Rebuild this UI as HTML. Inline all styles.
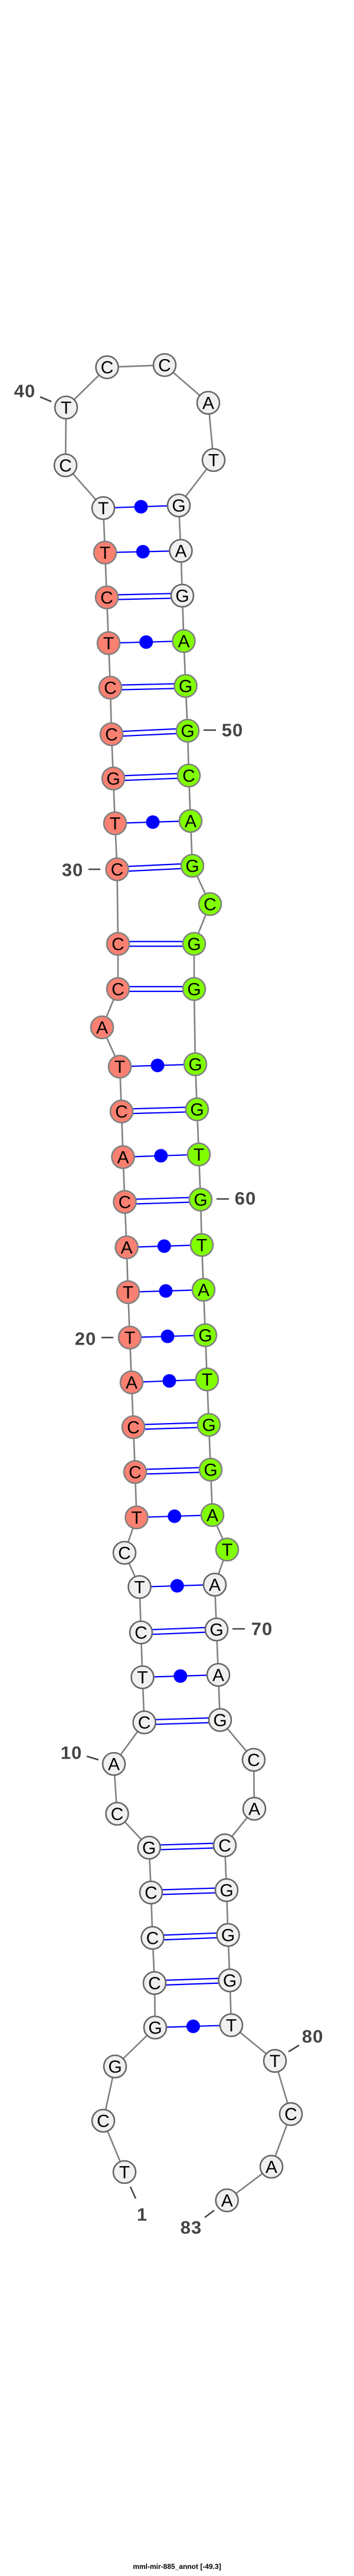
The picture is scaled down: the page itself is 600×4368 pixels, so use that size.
<!DOCTYPE html>
<html><head><meta charset="utf-8"><style>
html,body{margin:0;padding:0;background:#fff}
svg{display:block}
.n text{font-family:"Liberation Sans",sans-serif;font-size:30px;text-anchor:middle;dominant-baseline:central;fill:#000}
.n circle{fill:#f0f0f0;stroke:#666;stroke-width:2.6}
.n circle.r{fill:#fa8072;stroke:#808080}
.n circle.g{fill:#7fff00;stroke:#808080}
.lb{font-family:"Liberation Sans",sans-serif;font-weight:bold;font-size:31px;fill:#444;text-anchor:middle;dominant-baseline:central;letter-spacing:1px}
.pr line{stroke:#0000ff;stroke-width:2.2}
.pr circle{fill:#0000ff}
</style></head><body>
<svg width="600" height="4368" viewBox="0 0 600 4368" xmlns="http://www.w3.org/2000/svg">
<polyline fill="none" stroke="#808080" stroke-width="2.6" points="211,3683 175,3596 195,3504 263,3438 262,3362.5 258.5,3286 256,3209 252.7,3133 198.5,3075.5 193,2991 244.6,2920.5 241.5,2844 239,2768 236.5,2691 211,2633 231.5,2573 229,2496 226,2420 223,2344 220,2268 217,2191 214.6,2115 211.5,2038 208.5,1962 206,1884.7 203,1808.7 173,1742 200,1677 200,1600.5 198.5,1474 195,1396 192,1320 189,1245 187,1166 184,1090.5 181,1013 178,937 175,861.5 111,789 112,691 181.5,622.7 279,619 353,683 362,780 303,857 306.5,934 309,1010 311.5,1087 314.6,1163 318,1239 320,1315 323,1392 326,1468 356,1533 329,1600.5 329,1677 331,1804.6 334,1881 337,1957.6 340,2034 342,2111 345,2187 348,2264 351,2339 354,2416 357,2492 360,2569 385,2627.5 364,2687 367,2763 370,2840 373,2916.5 430,2984 431,3067 381,3129 384,3205 386.5,3281 389.6,3358 392,3434 466,3494.6 493,3584.7 460,3674 384.7,3731"/>
<g class="pr">
<line x1="263" y1="3438" x2="392" y2="3434"/><circle cx="327.5" cy="3436" r="11.5"/>
<line x1="262" y1="3358.5" x2="389.6" y2="3354"/><line x1="262" y1="3366.5" x2="389.6" y2="3362"/>
<line x1="258.5" y1="3282" x2="386.5" y2="3277"/><line x1="258.5" y1="3290" x2="386.5" y2="3285"/>
<line x1="256" y1="3205" x2="384" y2="3201"/><line x1="256" y1="3213" x2="384" y2="3209"/>
<line x1="252.7" y1="3129" x2="381" y2="3125"/><line x1="252.7" y1="3137" x2="381" y2="3133"/>
<line x1="244.6" y1="2916.5" x2="373" y2="2912.5"/><line x1="244.6" y1="2924.5" x2="373" y2="2920.5"/>
<line x1="241.5" y1="2844" x2="370" y2="2840"/><circle cx="305.75" cy="2842" r="11.5"/>
<line x1="239" y1="2764" x2="367" y2="2759"/><line x1="239" y1="2772" x2="367" y2="2767"/>
<line x1="236.5" y1="2691" x2="364" y2="2687"/><circle cx="300.25" cy="2689" r="11.5"/>
<line x1="231.5" y1="2573" x2="360" y2="2569"/><circle cx="295.75" cy="2571" r="11.5"/>
<line x1="229" y1="2492" x2="357" y2="2488"/><line x1="229" y1="2500" x2="357" y2="2496"/>
<line x1="226" y1="2416" x2="354" y2="2412"/><line x1="226" y1="2424" x2="354" y2="2420"/>
<line x1="223" y1="2344" x2="351" y2="2339"/><circle cx="287" cy="2341.5" r="11.5"/>
<line x1="220" y1="2268" x2="348" y2="2264"/><circle cx="284" cy="2266" r="11.5"/>
<line x1="217" y1="2191" x2="345" y2="2187"/><circle cx="281" cy="2189" r="11.5"/>
<line x1="214.6" y1="2115" x2="342" y2="2111"/><circle cx="278.3" cy="2113" r="11.5"/>
<line x1="211.5" y1="2034" x2="340" y2="2030"/><line x1="211.5" y1="2042" x2="340" y2="2038"/>
<line x1="208.5" y1="1962" x2="337" y2="1957.6"/><circle cx="272.75" cy="1959.8" r="11.5"/>
<line x1="206" y1="1880.7" x2="334" y2="1877"/><line x1="206" y1="1888.7" x2="334" y2="1885"/>
<line x1="203" y1="1808.7" x2="331" y2="1804.6"/><circle cx="267" cy="1806.6" r="11.5"/>
<line x1="200" y1="1673" x2="329" y2="1673"/><line x1="200" y1="1681" x2="329" y2="1681"/>
<line x1="200" y1="1596.5" x2="329" y2="1596.5"/><line x1="200" y1="1604.5" x2="329" y2="1604.5"/>
<line x1="198.5" y1="1470" x2="326" y2="1464"/><line x1="198.5" y1="1478" x2="326" y2="1472"/>
<line x1="195" y1="1396" x2="323" y2="1392"/><circle cx="259" cy="1394" r="11.5"/>
<line x1="192" y1="1316" x2="320" y2="1311"/><line x1="192" y1="1324" x2="320" y2="1319"/>
<line x1="189" y1="1241" x2="318" y2="1235"/><line x1="189" y1="1249" x2="318" y2="1243"/>
<line x1="187" y1="1162" x2="314.6" y2="1159"/><line x1="187" y1="1170" x2="314.6" y2="1167"/>
<line x1="184" y1="1090.5" x2="311.5" y2="1087"/><circle cx="247.75" cy="1088.75" r="11.5"/>
<line x1="181" y1="1009" x2="309" y2="1006"/><line x1="181" y1="1017" x2="309" y2="1014"/>
<line x1="178" y1="937" x2="306.5" y2="934"/><circle cx="242.25" cy="935.5" r="11.5"/>
<line x1="175" y1="861.5" x2="303" y2="857"/><circle cx="239" cy="859.25" r="11.5"/>
</g>
<g class="n">
<circle cx="211" cy="3683" r="19"/><text x="211" y="3684">T</text>
<circle cx="175" cy="3596" r="19"/><text x="175" y="3597">C</text>
<circle cx="195" cy="3504" r="19"/><text x="195" y="3505">G</text>
<circle cx="263" cy="3438" r="19"/><text x="263" y="3439">G</text>
<circle cx="262" cy="3362.5" r="19"/><text x="262" y="3363.5">C</text>
<circle cx="258.5" cy="3286" r="19"/><text x="258.5" y="3287">C</text>
<circle cx="256" cy="3209" r="19"/><text x="256" y="3210">C</text>
<circle cx="252.7" cy="3133" r="19"/><text x="252.7" y="3134">G</text>
<circle cx="198.5" cy="3075.5" r="19"/><text x="198.5" y="3076.5">C</text>
<circle cx="193" cy="2991" r="19"/><text x="193" y="2992">A</text>
<circle cx="244.6" cy="2920.5" r="19"/><text x="244.6" y="2921.5">C</text>
<circle cx="241.5" cy="2844" r="19"/><text x="241.5" y="2845">T</text>
<circle cx="239" cy="2768" r="19"/><text x="239" y="2769">C</text>
<circle cx="236.5" cy="2691" r="19"/><text x="236.5" y="2692">T</text>
<circle cx="211" cy="2633" r="19"/><text x="211" y="2634">C</text>
<circle class="r" cx="231.5" cy="2573" r="19"/><text x="231.5" y="2574">T</text>
<circle class="r" cx="229" cy="2496" r="19"/><text x="229" y="2497">C</text>
<circle class="r" cx="226" cy="2420" r="19"/><text x="226" y="2421">C</text>
<circle class="r" cx="223" cy="2344" r="19"/><text x="223" y="2345">A</text>
<circle class="r" cx="220" cy="2268" r="19"/><text x="220" y="2269">T</text>
<circle class="r" cx="217" cy="2191" r="19"/><text x="217" y="2192">T</text>
<circle class="r" cx="214.6" cy="2115" r="19"/><text x="214.6" y="2116">A</text>
<circle class="r" cx="211.5" cy="2038" r="19"/><text x="211.5" y="2039">C</text>
<circle class="r" cx="208.5" cy="1962" r="19"/><text x="208.5" y="1963">A</text>
<circle class="r" cx="206" cy="1884.7" r="19"/><text x="206" y="1885.7">C</text>
<circle class="r" cx="203" cy="1808.7" r="19"/><text x="203" y="1809.7">T</text>
<circle class="r" cx="173" cy="1742" r="19"/><text x="173" y="1743">A</text>
<circle class="r" cx="200" cy="1677" r="19"/><text x="200" y="1678">C</text>
<circle class="r" cx="200" cy="1600.5" r="19"/><text x="200" y="1601.5">C</text>
<circle class="r" cx="198.5" cy="1474" r="19"/><text x="198.5" y="1475">C</text>
<circle class="r" cx="195" cy="1396" r="19"/><text x="195" y="1397">T</text>
<circle class="r" cx="192" cy="1320" r="19"/><text x="192" y="1321">G</text>
<circle class="r" cx="189" cy="1245" r="19"/><text x="189" y="1246">C</text>
<circle class="r" cx="187" cy="1166" r="19"/><text x="187" y="1167">C</text>
<circle class="r" cx="184" cy="1090.5" r="19"/><text x="184" y="1091.5">T</text>
<circle class="r" cx="181" cy="1013" r="19"/><text x="181" y="1014">C</text>
<circle class="r" cx="178" cy="937" r="19"/><text x="178" y="938">T</text>
<circle cx="175" cy="861.5" r="19"/><text x="175" y="862.5">T</text>
<circle cx="111" cy="789" r="19"/><text x="111" y="790">C</text>
<circle cx="112" cy="691" r="19"/><text x="112" y="692">T</text>
<circle cx="181.5" cy="622.7" r="19"/><text x="181.5" y="623.7">C</text>
<circle cx="279" cy="619" r="19"/><text x="279" y="620">C</text>
<circle cx="353" cy="683" r="19"/><text x="353" y="684">A</text>
<circle cx="362" cy="780" r="19"/><text x="362" y="781">T</text>
<circle cx="303" cy="857" r="19"/><text x="303" y="858">G</text>
<circle cx="306.5" cy="934" r="19"/><text x="306.5" y="935">A</text>
<circle cx="309" cy="1010" r="19"/><text x="309" y="1011">G</text>
<circle class="g" cx="311.5" cy="1087" r="19"/><text x="311.5" y="1088">A</text>
<circle class="g" cx="314.6" cy="1163" r="19"/><text x="314.6" y="1164">G</text>
<circle class="g" cx="318" cy="1239" r="19"/><text x="318" y="1240">G</text>
<circle class="g" cx="320" cy="1315" r="19"/><text x="320" y="1316">C</text>
<circle class="g" cx="323" cy="1392" r="19"/><text x="323" y="1393">A</text>
<circle class="g" cx="326" cy="1468" r="19"/><text x="326" y="1469">G</text>
<circle class="g" cx="356" cy="1533" r="19"/><text x="356" y="1534">C</text>
<circle class="g" cx="329" cy="1600.5" r="19"/><text x="329" y="1601.5">G</text>
<circle class="g" cx="329" cy="1677" r="19"/><text x="329" y="1678">G</text>
<circle class="g" cx="331" cy="1804.6" r="19"/><text x="331" y="1805.6">G</text>
<circle class="g" cx="334" cy="1881" r="19"/><text x="334" y="1882">G</text>
<circle class="g" cx="337" cy="1957.6" r="19"/><text x="337" y="1958.6">T</text>
<circle class="g" cx="340" cy="2034" r="19"/><text x="340" y="2035">G</text>
<circle class="g" cx="342" cy="2111" r="19"/><text x="342" y="2112">T</text>
<circle class="g" cx="345" cy="2187" r="19"/><text x="345" y="2188">A</text>
<circle class="g" cx="348" cy="2264" r="19"/><text x="348" y="2265">G</text>
<circle class="g" cx="351" cy="2339" r="19"/><text x="351" y="2340">T</text>
<circle class="g" cx="354" cy="2416" r="19"/><text x="354" y="2417">G</text>
<circle class="g" cx="357" cy="2492" r="19"/><text x="357" y="2493">G</text>
<circle class="g" cx="360" cy="2569" r="19"/><text x="360" y="2570">A</text>
<circle class="g" cx="385" cy="2627.5" r="19"/><text x="385" y="2628.5">T</text>
<circle cx="364" cy="2687" r="19"/><text x="364" y="2688">A</text>
<circle cx="367" cy="2763" r="19"/><text x="367" y="2764">G</text>
<circle cx="370" cy="2840" r="19"/><text x="370" y="2841">A</text>
<circle cx="373" cy="2916.5" r="19"/><text x="373" y="2917.5">G</text>
<circle cx="430" cy="2984" r="19"/><text x="430" y="2985">C</text>
<circle cx="431" cy="3067" r="19"/><text x="431" y="3068">A</text>
<circle cx="381" cy="3129" r="19"/><text x="381" y="3130">C</text>
<circle cx="384" cy="3205" r="19"/><text x="384" y="3206">G</text>
<circle cx="386.5" cy="3281" r="19"/><text x="386.5" y="3282">G</text>
<circle cx="389.6" cy="3358" r="19"/><text x="389.6" y="3359">G</text>
<circle cx="392" cy="3434" r="19"/><text x="392" y="3435">T</text>
<circle cx="466" cy="3494.6" r="19"/><text x="466" y="3495.6">T</text>
<circle cx="493" cy="3584.7" r="19"/><text x="493" y="3585.7">C</text>
<circle cx="460" cy="3674" r="19"/><text x="460" y="3675">A</text>
<circle cx="384.7" cy="3731" r="19"/><text x="384.7" y="3732">A</text>
</g>
<g stroke="#444" stroke-width="2.6">
<line x1="68" y1="673" x2="87" y2="681"/>
<line x1="345" y1="1238" x2="366" y2="1238"/>
<line x1="150" y1="1474" x2="170" y2="1474"/>
<line x1="367" y1="2033" x2="388" y2="2033"/>
<line x1="172" y1="2268" x2="192" y2="2268"/>
<line x1="394" y1="2762" x2="415" y2="2762"/>
<line x1="147" y1="2978" x2="167" y2="2984"/>
<line x1="489" y1="3479" x2="507" y2="3468"/>
<line x1="221" y1="3708" x2="230" y2="3728"/>
<line x1="347" y1="3760" x2="363" y2="3748"/>
</g>
<text class="lb" x="42" y="663">40</text>
<text class="lb" x="394" y="1238">50</text>
<text class="lb" x="123" y="1475">30</text>
<text class="lb" x="416" y="2032">60</text>
<text class="lb" x="145" y="2270">20</text>
<text class="lb" x="444" y="2762">70</text>
<text class="lb" x="121" y="2972">10</text>
<text class="lb" x="530" y="3453">80</text>
<text class="lb" x="241" y="3755">1</text>
<text class="lb" x="324" y="3777">83</text>
<text x="300" y="4356" font-family="Liberation Sans,sans-serif" font-weight="bold" font-size="12" text-anchor="middle" fill="#000">mml-mir-885_annot [-49.3]</text>
</svg>
</body></html>
